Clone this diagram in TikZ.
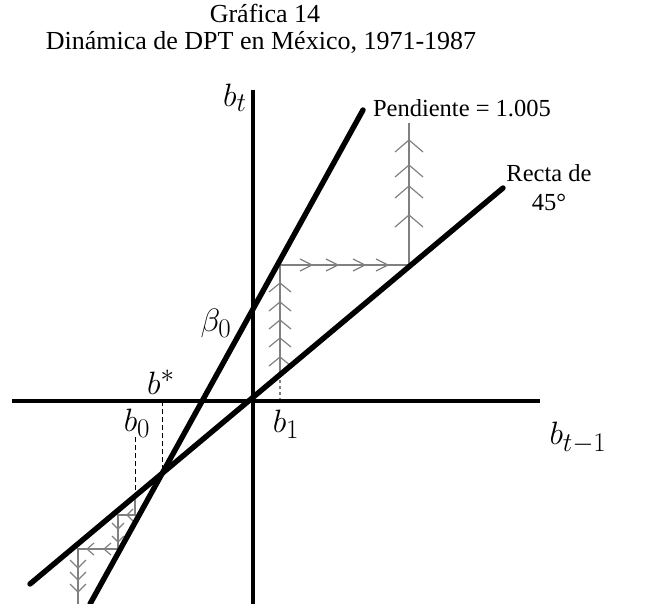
\documentclass[tikz,border=0pt]{standalone}
\usepackage{fontspec}
\setmainfont{Liberation Serif}
\usepackage{tikz}
\usetikzlibrary{arrows.meta,positioning}
\definecolor{mygray}{RGB}{128,128,128}

\begin{document}
\begin{tikzpicture}[
  x=1pt, y=-1pt,
  every node/.style={inner sep=0pt, outer sep=0pt},
  titletext/.style={font=\fontsize{26}{27}\selectfont},
  mathlbl/.style={font=\fontsize{24.88}{28}\selectfont, scale=1.3},
  note/.style={font=\fontsize{24.5}{26}\selectfont},
  axisline/.style={line width=4pt},
  curve/.style={line width=5.4pt, line cap=round},
  web/.style={mygray, line width=1.3pt},
  chev/.style={mygray, line width=1.2pt},
  guide/.style={dash pattern=on 5pt off 3pt, line width=1pt}
]
\useasboundingbox (0,0) rectangle (655,604);

\node[titletext, anchor=base] (title) at (265,23) {Gráfica 14};
\node[titletext, anchor=base] (subtitle) at (261,50) {Dinámica de DPT en México, 1971-1987};

\node[mathlbl] (bt) at (235,98) {$b_t$};
\node[mathlbl] (beta) at (216,323) {$\beta_0$};
\node[mathlbl] (bstar) at (161,382) {$b^*$};
\node[mathlbl] (bzero) at (137,423) {$b_0$};
\node[mathlbl] (bone) at (286,424) {$b_1$};
\node[mathlbl] (btlag) at (578,438) {$b_{t-1}$};
\node[note, anchor=base west] (slope) at (373,117) {Pendiente = 1.005};
\node[note, anchor=base] (recta) at (549,182) {Recta de};
\node[note, anchor=base] (grados) at (549,210) {45°};

\coordinate (xl) at (12,401);
\coordinate (xr) at (540,401);
\coordinate (yt) at (252.5,90);
\coordinate (yb) at (252.5,604);
\coordinate (s1) at (363,110);
\coordinate (s2) at (90,604);
\coordinate (r1) at (503,188);
\coordinate (r2) at (30,584);
\coordinate (E) at (162,473);
\coordinate (Etop) at (162,401);
\coordinate (b0top) at (135,437);
\coordinate (b0low) at (135,497);
\coordinate (b1low) at (280,401);
\coordinate (b1mid) at (280,375);

\coordinate (w1) at (280,265);
\coordinate (w2) at (409,265);
\coordinate (w3) at (409,123);
\coordinate (v1) at (135,515);
\coordinate (v2) at (118,515);
\coordinate (v3) at (118,549);
\coordinate (v4) at (78,549);
\coordinate (v5) at (78,604);

\draw[web, dash pattern=on 3pt off 3pt] (b1low) -- (b1mid);
\draw[web] (b1mid) -- (w1) -- (w2) -- (w3);
\draw[web] (b0low) -- (v1) -- (v2) -- (v3) -- (v4) -- (v5);

\foreach \y in {283,302,320,338,357}
  \draw[chev] ({280-11},{\y+9}) -- (280,\y) -- ({280+11},{\y+9});
\foreach \x in {312,338,365,388}
  \draw[chev] ({\x-12},{265-6}) -- (\x,265) -- ({\x-12},{265+6});
\foreach \y in {140,165,186,215}
  \draw[chev] ({409-14},{\y+12}) -- (409,\y) -- ({409+14},{\y+12});

\draw[chev] (133,509) -- (127,515) -- (133,521);
\foreach \y in {529,542}
  \draw[chev] ({118-6},{\y-6}) -- (118,\y) -- ({118+6},{\y-6});
\foreach \x in {87,104}
  \draw[chev] ({\x+7},{549-6}) -- (\x,549) -- ({\x+7},{549+6});
\foreach \y in {568,580,592}
  \draw[chev] ({78-8},{\y-8}) -- (78,\y) -- ({78+8},{\y-8});

\draw[guide] (Etop) -- (E);
\draw[guide] (b0top) -- (b0low);

\draw[axisline] (xl) -- (xr);
\draw[axisline] (yt) -- (yb);
\draw[curve] (s2) -- (s1);
\draw[curve] (r2) -- (r1);
\end{tikzpicture}
\end{document}
